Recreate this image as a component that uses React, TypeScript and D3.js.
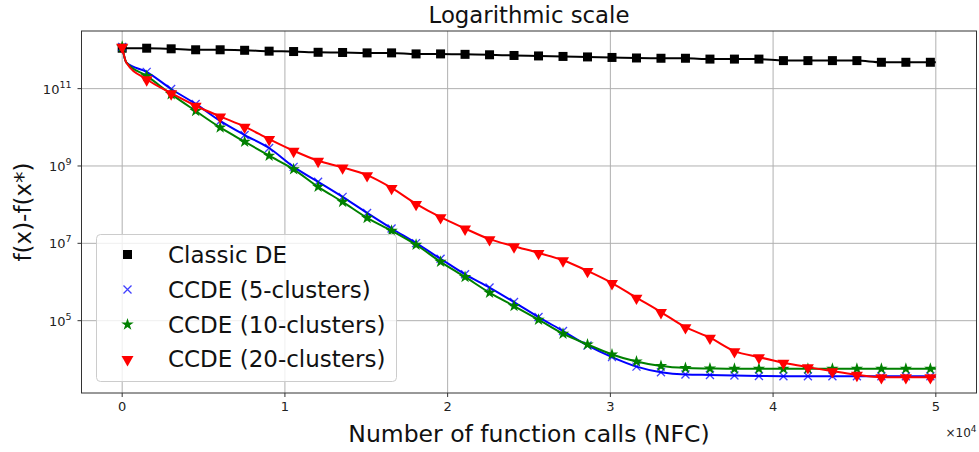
import * as d3 from "d3";

// marker positions along the x axis (number of function calls)
const nfc = [
  0, 1505, 3010, 4515, 6020, 7525, 9030, 10535, 12040, 13545, 15050, 16555,
  18060, 19565, 21070, 22575, 24080, 25585, 27090, 28595, 30100, 31605, 33110,
  34615, 36120, 37625, 39130, 40635, 42140, 43645, 45150, 46655, 48160, 49665,
];
const nfcDrop = 250; // first generation, the CCDE curves fall here
const nfcEnd = 50000;

const classicDE = [
  1.11e12, 1.11e12, 1.07e12, 1.01e12, 1.01e12, 9.8e11, 9.3e11, 9.1e11, 8.7e11,
  8.6e11, 8.4e11, 8.4e11, 7.9e11, 7.9e11, 7.7e11, 7.5e11, 7.2e11, 7.0e11,
  6.8e11, 6.6e11, 6.4e11, 6.2e11, 6.1e11, 6.1e11, 5.8e11, 5.8e11, 5.8e11,
  5.3e11, 5.3e11, 5.3e11, 5.3e11, 4.8e11, 4.8e11, 4.8e11,
];
const ccde5 = [
  1.2e12, 2.71e11, 9.8e10, 4.02e10, 1.46e10, 6.3e9, 2.91e9, 9.5e8, 3.9e8,
  1.59e8, 6.1e7, 2.42e7, 1.01e7, 3.99e6, 1.58e6, 7.2e5, 3.03e5, 1.24e5, 5.4e4,
  2.29e4, 1.14e4, 6.5e3, 4.66e3, 4.06e3, 3.94e3, 3.83e3, 3.72e3, 3.67e3,
  3.67e3, 3.67e3, 3.67e3, 3.67e3, 3.67e3, 3.67e3,
];
const ccde10 = [
  1.2e12, 2.13e11, 7.2e10, 2.64e10, 9.9e9, 4.24e9, 1.84e9, 8.2e8, 2.89e8,
  1.18e8, 4.55e7, 2.12e7, 9.2e6, 3.33e6, 1.35e6, 5.3e5, 2.39e5, 1.06e5, 4.6e4,
  2.43e4, 1.34e4, 8.8e3, 6.7e3, 5.98e3, 5.81e3, 5.7e3, 5.7e3, 5.7e3, 5.7e3,
  5.7e3, 5.7e3, 5.7e3, 5.7e3, 5.7e3,
];
const ccde20 = [
  1.22e12, 1.75e11, 7.6e10, 3.61e10, 1.91e10, 1.04e10, 4.98e9, 2.48e9, 1.36e9,
  9.2e8, 5.8e8, 2.71e8, 1.05e8, 4.74e7, 2.42e7, 1.28e7, 8.4e6, 5.64e6, 3.65e6,
  1.93e6, 9.4e5, 3.94e5, 1.67e5, 6.8e4, 3.63e4, 1.63e4, 1.14e4, 8.2e3, 6.3e3,
  4.94e3, 3.99e3, 3.46e3, 3.46e3, 3.46e3,
];
const dropValues = [null, 4.77e11, 4.77e11, 4.72e11];

const labels = [
  "Classic DE",
  "CCDE (5-clusters)",
  "CCDE (10-clusters)",
  "CCDE (20-clusters)",
];
const colors = ["#000000", "#0000ff", "#008000", "#ff0000"];
const markers = ["square", "x", "star", "triangle"];
const seriesValues = [classicDE, ccde5, ccde10, ccde20];

const xTicks = [0, 1, 2, 3, 4, 5];
const yTickExps = [5, 7, 9, 11];

const W = 979;
const H = 452;
const LEFT = 81.5;
const RIGHT = 976.5;
const TOP = 31;
const BOTTOM = 393;
const FONT = "DejaVu Sans";

const Marker = ({ type, x, y, color }) => {
  if (type === "square") {
    return <rect x={x - 4.5} y={y - 4.5} width={9} height={9} fill={color} />;
  }
  if (type === "x") {
    const s = 4;
    return (
      <path
        d={`M${x - s},${y - s}L${x + s},${y + s}M${x - s},${y + s}L${x + s},${y - s}`}
        stroke={color}
        strokeWidth={1.3}
        opacity={0.75}
      />
    );
  }
  if (type === "star") {
    const p = d3.symbol(d3.symbolStar, 48)();
    return <path d={p} transform={`translate(${x},${y})`} fill={color} />;
  }
  const p = d3.symbol(d3.symbolTriangle, 62)();
  return (
    <path d={p} transform={`translate(${x},${y + 0.5}) rotate(180)`} fill={color} />
  );
};

export default function App() {
  const xScale = d3.scaleLinear().domain([-2500, 52500]).range([LEFT, RIGHT]);
  const yScale = d3
    .scaleLog()
    .domain([Math.pow(10, 3.13), Math.pow(10, 12.49)])
    .range([BOTTOM, TOP]);

  const series = seriesValues.map((vals, i) => {
    let pts = vals.map((v, j) => ({ x: nfc[j], y: v }));
    const linePts = [...pts];
    if (dropValues[i] != null) linePts.splice(1, 0, { x: nfcDrop, y: dropValues[i] });
    linePts.push({ x: nfcEnd, y: vals[vals.length - 1] });
    return { pts, linePts, color: colors[i], marker: markers[i], label: labels[i] };
  });

  const lineBuilder = d3
    .line()
    .x((d) => xScale(d.x))
    .y((d) => yScale(d.y))
    .curve(d3.curveMonotoneX);

  const legendRows = [254.5, 289.5, 324.5, 359];

  return (
    <svg
      width={W}
      height={H}
      style={{ position: "absolute", left: 0, top: 0, background: "#fff" }}
      fontFamily={FONT}
    >
      <rect x={0} y={0} width={W} height={H} fill="#fff" />
      {/* grid */}
      {xTicks.map((t) => (
        <line
          key={"gx" + t}
          x1={xScale(t * 1e4)}
          x2={xScale(t * 1e4)}
          y1={TOP}
          y2={BOTTOM}
          stroke="#b0b0b0"
          strokeWidth={1}
        />
      ))}
      {yTickExps.map((e) => (
        <line
          key={"gy" + e}
          x1={LEFT}
          x2={RIGHT}
          y1={yScale(Math.pow(10, e))}
          y2={yScale(Math.pow(10, e))}
          stroke="#b0b0b0"
          strokeWidth={1}
        />
      ))}

      {/* series */}
      {series.map((s, i) => (
        <g key={"s" + i}>
          <path
            d={lineBuilder(s.linePts)}
            fill="none"
            stroke={s.color}
            strokeWidth={2}
            strokeLinejoin="round"
          />
          {s.pts.map((p, j) => (
            <Marker
              key={j}
              type={s.marker}
              x={xScale(p.x)}
              y={yScale(p.y)}
              color={s.color}
            />
          ))}
        </g>
      ))}

      {/* frame */}
      <rect
        x={LEFT}
        y={TOP}
        width={RIGHT - LEFT}
        height={BOTTOM - TOP}
        fill="none"
        stroke="#333"
        strokeWidth={1}
      />

      {/* x ticks */}
      {xTicks.map((t) => (
        <g key={"tx" + t} transform={`translate(${xScale(t * 1e4)},${BOTTOM})`}>
          <line y1={0} y2={4} stroke="#333" />
          <text y={18} textAnchor="middle" fontSize={13} fill="#222">
            {t}
          </text>
        </g>
      ))}
      <text x={RIGHT} y={437} textAnchor="end" fontSize={12} fill="#222">
        ×10
        <tspan dy={-5} fontSize={9}>
          4
        </tspan>
      </text>

      {/* y ticks */}
      {yTickExps.map((e) => (
        <g key={"ty" + e} transform={`translate(${LEFT},${yScale(Math.pow(10, e))})`}>
          <line x1={0} x2={-4} stroke="#333" />
          <text x={-10} y={5} textAnchor="end" fontSize={13} fill="#222">
            10
            <tspan dy={-6} fontSize={9.5}>
              {e}
            </tspan>
          </text>
        </g>
      ))}

      {/* labels */}
      <text x={(LEFT + RIGHT) / 2} y={23} textAnchor="middle" fontSize={22.8} fill="#111">
        Logarithmic scale
      </text>
      <text x={(LEFT + RIGHT) / 2} y={442} textAnchor="middle" fontSize={23.5} fill="#111">
        Number of function calls (NFC)
      </text>
      <text
        transform={`translate(31,${(TOP + BOTTOM) / 2}) rotate(-90)`}
        textAnchor="middle"
        fontSize={23}
        fill="#111"
      >
        f(x)-f(x*)
      </text>

      {/* legend */}
      <rect
        x={96.5}
        y={234.5}
        width={300}
        height={147}
        rx={4}
        fill="#fff"
        fillOpacity={0.8}
        stroke="#ccc"
        strokeWidth={1}
      />
      {series.map((s, i) => (
        <g key={"l" + i}>
          <Marker type={s.marker} x={127.5} y={legendRows[i]} color={s.color} />
          <text x={168} y={legendRows[i] + 8} fontSize={23} fill="#111">
            {s.label}
          </text>
        </g>
      ))}
    </svg>
  );
}
